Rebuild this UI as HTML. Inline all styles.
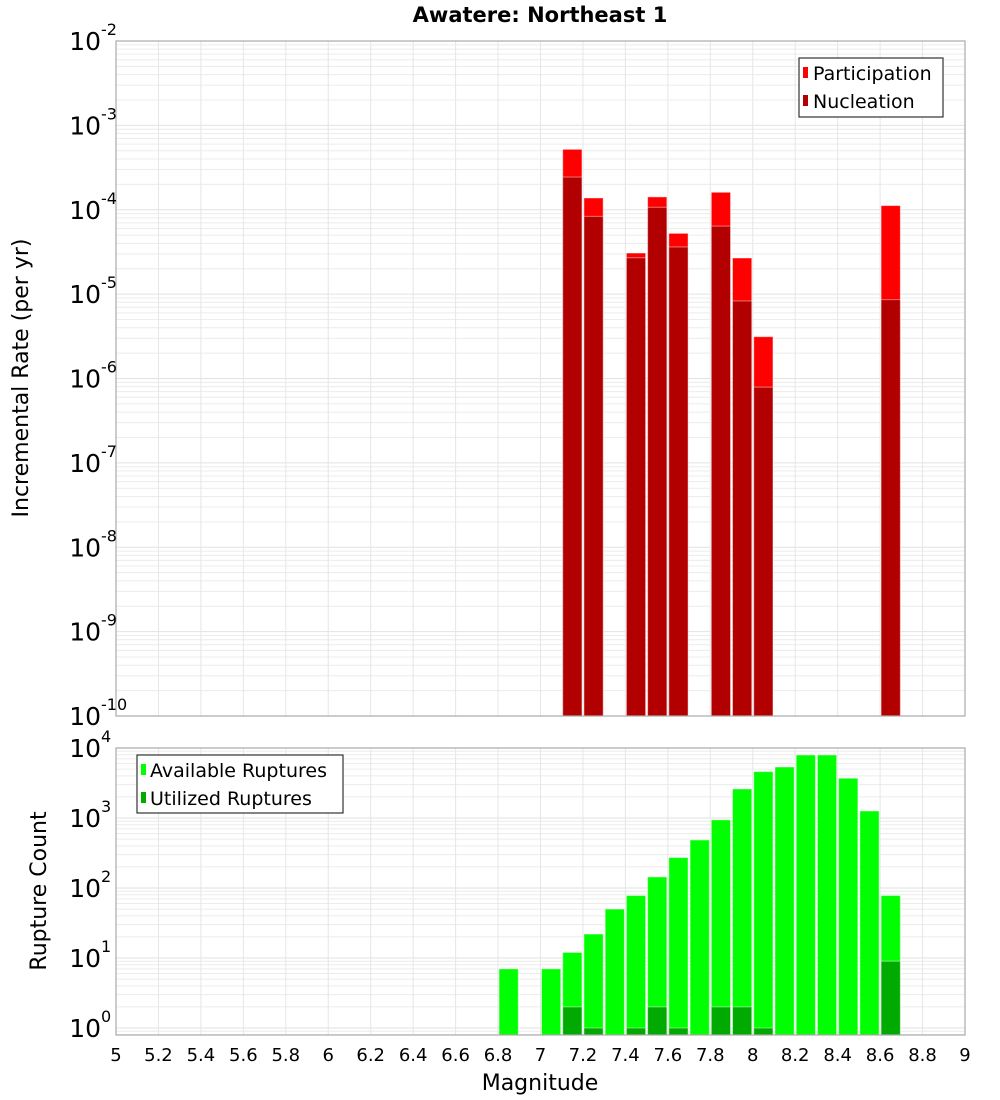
<!DOCTYPE html>
<html><head><meta charset="utf-8"><style>
html,body{margin:0;padding:0;background:#fff}
svg{display:block;font-family:"DejaVu Sans","Liberation Sans",sans-serif}
</style></head><body>
<svg id="c" width="1000" height="1100" xmlns="http://www.w3.org/2000/svg">
<text x="540" y="22" text-anchor="middle" font-size="21" font-weight="bold">Awatere: Northeast 1</text>
<text transform="translate(28,378) rotate(-90)" text-anchor="middle" font-size="22">Incremental Rate (per yr)</text>
<text transform="translate(46,891) rotate(-90)" text-anchor="middle" font-size="22">Rupture Count</text>
<text x="540" y="1090" text-anchor="middle" font-size="22">Magnitude</text>
<g id="topg"></g>
<g id="botg"></g>
<g>
<rect x="799" y="58" width="144" height="59" fill="#fff" stroke="#333" stroke-width="1.2"/>
<rect x="803" y="67" width="5" height="11" fill="#ff0000"/>
<text x="813" y="80" font-size="19">Participation</text>
<rect x="803" y="95" width="5" height="11" fill="#b20000"/>
<text x="813" y="108" font-size="19">Nucleation</text>
</g>
<g>
<rect x="137" y="755" width="206" height="58" fill="#fff" stroke="#333" stroke-width="1.2"/>
<rect x="141" y="764" width="5" height="11" fill="#00ff00"/>
<text x="150" y="777" font-size="19">Available Ruptures</text>
<rect x="141" y="792" width="5" height="11" fill="#00aa00"/>
<text x="150" y="805" font-size="19">Utilized Ruptures</text>
</g>
</svg>
<script>
const rateMags=[7.1,7.2,7.4,7.5,7.6,7.8,7.9,8.0,8.6];
const partRates=[5.2e-4,1.38e-4,3.07e-5,1.42e-4,5.25e-5,1.61e-4,2.68e-5,3.13e-6,1.12e-4];
const nuclRates=[2.44e-4,8.35e-5,2.7e-5,1.07e-4,3.62e-5,6.4e-5,8.3e-6,7.9e-7,8.6e-6];
const countMags=[6.8,7.0,7.1,7.2,7.3,7.4,7.5,7.6,7.7,7.8,7.9,8.0,8.1,8.2,8.3,8.4,8.5,8.6];
const availCounts=[7,7,12,22,50,78,144,272,485,940,2600,4600,5350,7950,7950,3700,1260,78];
const usedMags=[7.1,7.2,7.4,7.5,7.6,7.8,7.9,8.0,8.6];
const usedCounts=[2,1,1,2,1,2,2,1,9];
const xTicks=[5,5.2,5.4,5.6,5.8,6,6.2,6.4,6.6,6.8,7,7.2,7.4,7.6,7.8,8,8.2,8.4,8.6,8.8,9];
const topExps=[-2,-3,-4,-5,-6,-7,-8,-9,-10];
const botExps=[4,3,2,1,0];

{
const NS='http://www.w3.org/2000/svg';
const X0=116,X1=965;
const xs=m=>X0+(m-5)/4*(X1-X0);
const yTop=v=>41+(-2-Math.log10(v))*84.375;
const yBot=v=>748+(4-Math.log10(v))*70;
function mk(p,tag,a){const e=document.createElementNS(NS,tag);for(const k in a)e.setAttribute(k,a[k]);p.appendChild(e);return e;}

function grid(g,y0,y1,lo,hi,yf){
  for(let e=lo;e<hi;e++){for(let k=1;k<10;k++){const y=yf(k*Math.pow(10,e));if(y<y0-0.5||y>y1+0.5)continue;
    const l=mk(g,'line',{x1:X0,x2:X1,y1:y,y2:y,stroke:k==1?'#e2e2e2':'#ececec','stroke-width':1});
    
    }}
  xTicks.forEach(t=>{const l=mk(g,'line',{x1:xs(t),x2:xs(t),y1:y0,y2:y1,stroke:'#e6e6e6','stroke-width':1});
    
    });
}
function bar(g,m,v,yf,ybase,fill,name){
  const x=xs(m)+1,w=xs(m+0.1)-xs(m)-2,y=yf(v);
  const r=mk(g,'rect',{x:x,y:y,width:w,height:Math.max(0,ybase-y),fill:fill,stroke:'rgba(255,255,255,0.45)','stroke-width':1});
  
  
}
function ylab(g,e,y){
  const t=mk(g,'text',{x:101,y:y+9,'text-anchor':'end','font-size':25});t.textContent='10';
  
  
  const s=mk(g,'text',{x:101,y:y-6,'font-size':16});s.textContent=String(e);
  
  
}
const topG=document.getElementById('topg');
grid(topG,41,716,-10,-2,yTop);
rateMags.forEach((m,i)=>bar(topG,m,partRates[i],yTop,716,'#ff0000','participation-bar'));
rateMags.forEach((m,i)=>bar(topG,m,nuclRates[i],yTop,716,'#b20000','nucleation-bar'));
mk(topG,'rect',{x:X0,y:41,width:X1-X0,height:675,fill:'none',stroke:'#aaa','stroke-width':1.2});
topExps.forEach(e=>ylab(topG,e,yTop(Math.pow(10,e))));

const botG=document.getElementById('botg');
grid(botG,748,1035,-1,4,yBot);
countMags.forEach((m,i)=>bar(botG,m,availCounts[i],yBot,1035,'#00ff00','available-bar'));
usedMags.forEach((m,i)=>bar(botG,m,usedCounts[i],yBot,1035,'#00aa00','utilized-bar'));
mk(botG,'rect',{x:X0,y:748,width:X1-X0,height:287,fill:'none',stroke:'#aaa','stroke-width':1.2});
botExps.forEach(e=>ylab(botG,e,yBot(Math.pow(10,e))));
xTicks.forEach(t=>{const tx=mk(botG,'text',{x:xs(t),y:1061,'text-anchor':'middle','font-size':18});
  tx.textContent=String(t);
  
  });
}
</script>
</body></html>
